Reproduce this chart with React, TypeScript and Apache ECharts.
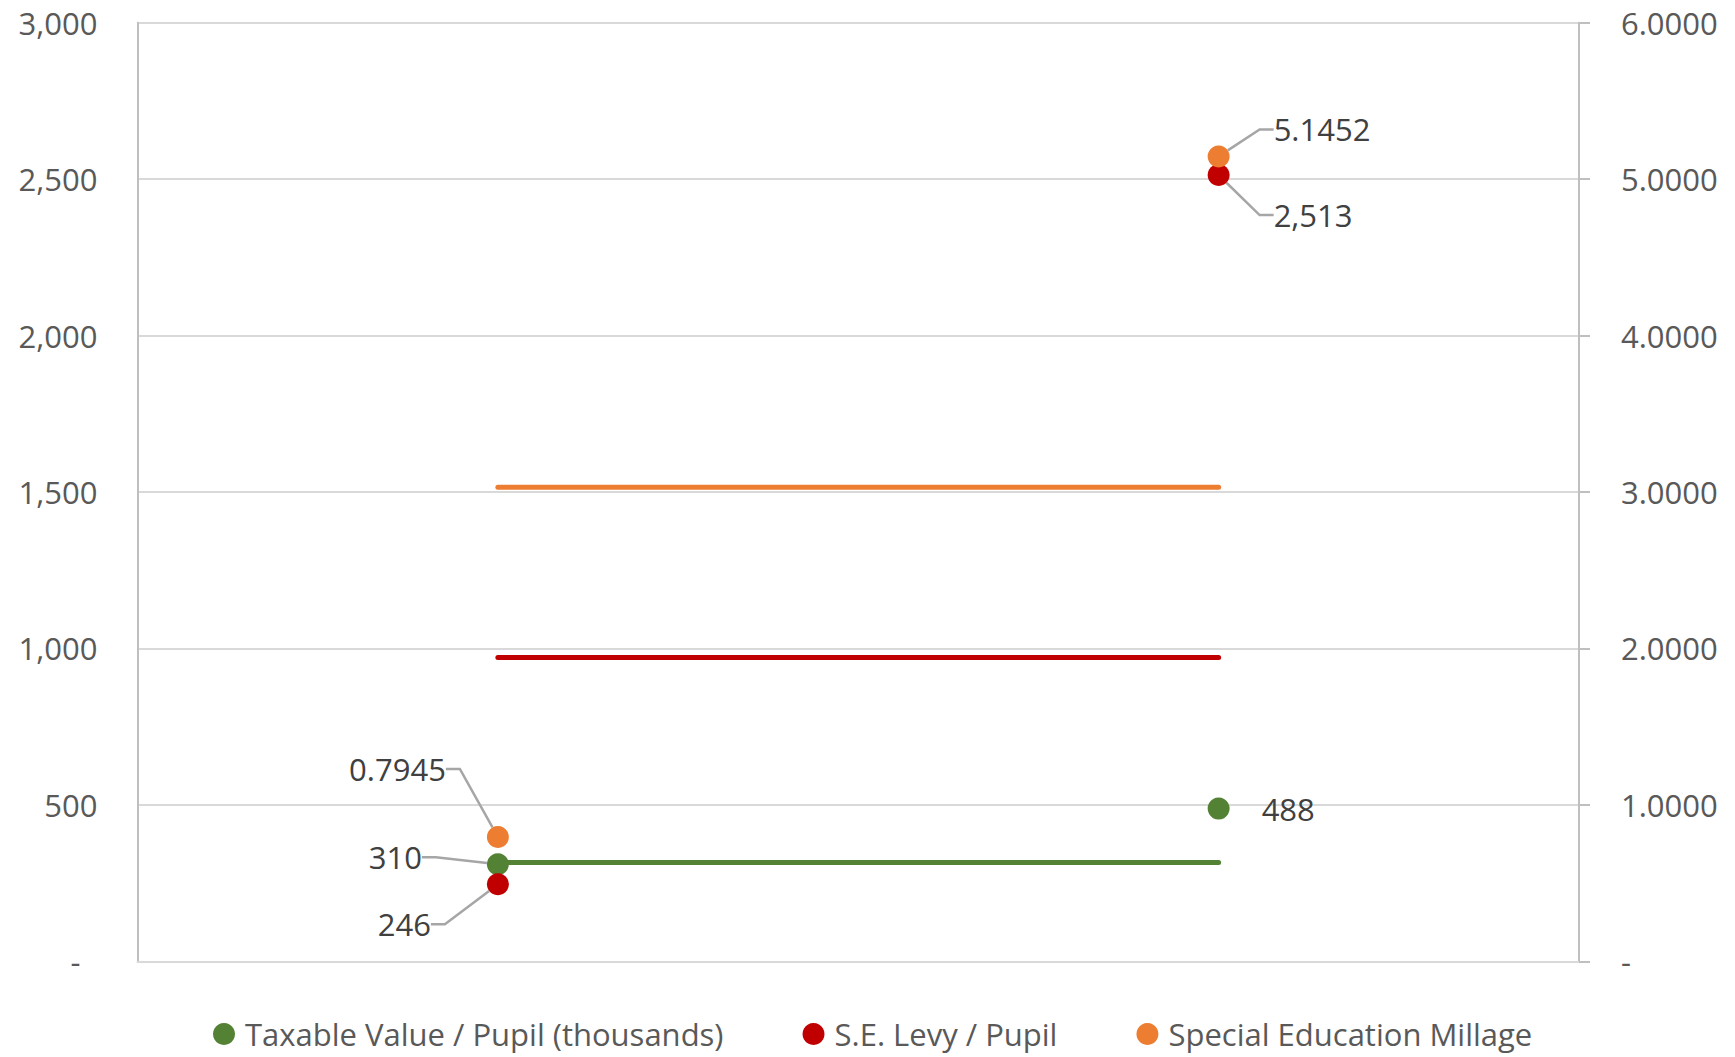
import React, { useEffect, useRef } from "react";
import * as echarts from "echarts";

// ---- data ----
const categories = ["District", "Comparison"];
const taxableValuePerPupil = [310, 488];
const seLevyPerPupil = [246, 2513];
const specialEducationMillage = [0.7945, 5.1452];
// horizontal reference lines (drawn between the two categories)
const taxableValueRef = [316, 316];
const seLevyRef = [971, 971];
const millageRef = [3.03, 3.03];
// axes
const leftAxisRange = [0, 3000];
const leftAxisStep = 500;
const rightAxisRange = [0, 6];
const rightAxisStep = 1;

const seriesNames = [
  "Taxable Value / Pupil (thousands)",
  "S.E. Levy / Pupil",
  "Special Education Millage",
];

// ---- styles ----
const FONT = "'Open Sans', 'Noto Sans', sans-serif";
const FS = 31;
const GREEN = "#548235";
const RED = "#C00000";
const ORANGE = "#ED7D31";
const AXIS_TEXT = "#595959";
const LABEL_TEXT = "#404040";
const LABEL_PAD = 10;

type LabelPlace = { pos: "left" | "right"; dx: number; dy: number; line: boolean };
const taxableLabels: LabelPlace[] = [
  { pos: "left", dx: -50, dy: -7, line: true },
  { pos: "right", dx: 17, dy: 0, line: false },
];
const levyLabels: LabelPlace[] = [
  { pos: "left", dx: -41, dy: 40, line: true },
  { pos: "right", dx: 29, dy: 40, line: true },
];
const millageLabels: LabelPlace[] = [
  { pos: "left", dx: -26, dy: -68, line: true },
  { pos: "right", dx: 29, dy: -27, line: true },
];

const fmtThousands = (v: number) => v.toLocaleString("en-US");
const fmtMillage = (v: number) => v.toFixed(4);

function scatterSeries(
  name: string,
  values: number[],
  color: string,
  yAxisIndex: number,
  fmt: (v: number) => string,
  places: LabelPlace[]
) {
  return {
    type: "scatter",
    name,
    yAxisIndex,
    symbol: "circle",
    symbolSize: 22,
    itemStyle: { color, opacity: 1 },
    z: 5,
    data: values.map((v, i) => ({
      value: v,
      label: { position: places[i].pos },
      labelLine: { show: places[i].line },
    })),
    label: {
      show: true,
      formatter: (p: any) => fmt(typeof p.value === "number" ? p.value : p.value[1]),
      color: LABEL_TEXT,
      fontSize: FS,
      fontFamily: FONT,
      distance: 5,
      padding: [0, LABEL_PAD],
    },
    labelLine: {
      show: true,
      length2: 14,
      lineStyle: { color: "#A6A6A6", width: 2.5 },
    },
    labelLayout: (p: any) => ({
      dx: places[p.dataIndex].dx,
      dy: places[p.dataIndex].dy,
    }),
    emphasis: { disabled: true },
  };
}

function refLine(name: string, values: number[], color: string, yAxisIndex: number) {
  return {
    type: "line",
    name,
    yAxisIndex,
    data: values,
    symbol: "none",
    lineStyle: { color, width: 5, cap: "round" },
    z: 2,
    silent: true,
  };
}

export default function App() {
  const ref = useRef<HTMLDivElement>(null);

  useEffect(() => {
    if (!ref.current) return;
    const chart = echarts.init(ref.current, undefined, { renderer: "svg" });
    chart.setOption({
      animation: false,
      backgroundColor: "#ffffff",
      textStyle: { fontFamily: FONT },
      grid: { left: 137.5, right: 156, top: 22.7, bottom: 95.7, containLabel: false },
      legend: {
        data: seriesNames,
        left: 213,
        top: 1017,
        padding: 0,
        icon: "circle",
        itemWidth: 22,
        itemHeight: 22,
        itemGap: 79,
        textStyle: {
          color: AXIS_TEXT,
          fontSize: FS,
          fontFamily: FONT,
          lineHeight: 34,
          padding: [0, 0, 0, 5],
        },
      },
      xAxis: {
        type: "category",
        data: categories,
        boundaryGap: true,
        axisLine: { show: true, lineStyle: { color: "#D9D9D9", width: 2 } },
        axisTick: { show: false },
        axisLabel: { show: false },
      },
      yAxis: [
        {
          type: "value",
          position: "left",
          min: leftAxisRange[0],
          max: leftAxisRange[1],
          interval: leftAxisStep,
          axisLine: { show: true, lineStyle: { color: "#BFBFBF", width: 2 } },
          axisTick: { show: false },
          splitLine: { show: true, lineStyle: { color: "#D9D9D9", width: 2 } },
          axisLabel: {
            margin: 40,
            color: AXIS_TEXT,
            fontSize: FS,
            fontFamily: FONT,
            formatter: (v: number) => (v === 0 ? "{z|-}" : fmtThousands(v)),
            rich: {
              z: {
                color: AXIS_TEXT,
                fontSize: FS,
                fontFamily: FONT,
                padding: [0, 17, 0, 0],
              },
            },
          },
        },
        {
          type: "value",
          position: "right",
          min: rightAxisRange[0],
          max: rightAxisRange[1],
          interval: rightAxisStep,
          axisLine: { show: true, lineStyle: { color: "#BFBFBF", width: 2 } },
          axisTick: { show: true, length: 11, lineStyle: { color: "#BFBFBF", width: 2 } },
          splitLine: { show: false },
          axisLabel: {
            margin: 42,
            color: AXIS_TEXT,
            fontSize: FS,
            fontFamily: FONT,
            formatter: (v: number) => (v === 0 ? "-" : fmtMillage(v)),
          },
        },
      ],
      series: [
        refLine("Taxable Value Reference", taxableValueRef, GREEN, 0),
        refLine("S.E. Levy Reference", seLevyRef, RED, 0),
        refLine("Millage Reference", millageRef, ORANGE, 1),
        scatterSeries(seriesNames[0], taxableValuePerPupil, GREEN, 0, fmtThousands, taxableLabels),
        scatterSeries(seriesNames[1], seLevyPerPupil, RED, 0, fmtThousands, levyLabels),
        scatterSeries(seriesNames[2], specialEducationMillage, ORANGE, 1, fmtMillage, millageLabels),
      ],
    });
    return () => chart.dispose();
  }, []);

  return (
    <div
      ref={ref}
      style={{ position: "fixed", left: 0, top: 0, width: 1735, height: 1057, background: "#fff" }}
    />
  );
}
